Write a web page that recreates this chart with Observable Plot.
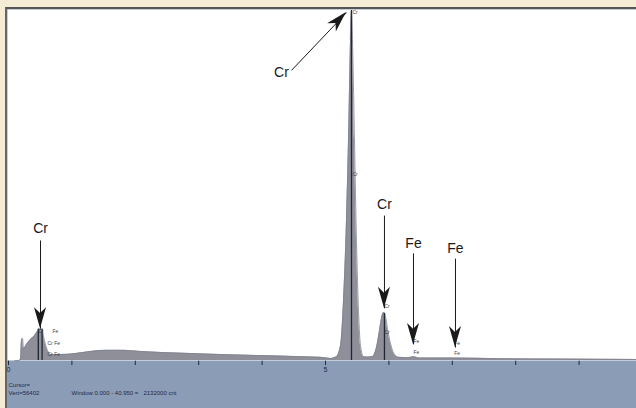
<!DOCTYPE html>
<html><head><meta charset="utf-8">
<script src="https://cdn.jsdelivr.net/npm/d3@7"></script>
<script src="https://cdn.jsdelivr.net/npm/@observablehq/plot@0.6"></script>
<style>
html,body{margin:0;padding:0;background:#f5ecd6;}
#wrap{position:relative;width:636px;height:408px;overflow:hidden;background:#f5ecd6;}
#panel{position:absolute;left:5px;top:7px;width:631px;height:401px;background:#8b9cb7;border-top:2px solid #555;border-left:2px solid #666;box-sizing:border-box;}
#chart{position:absolute;left:0;top:0;}
</style></head><body>
<div id="wrap"><div id="panel"></div><div id="chart"></div></div>
<script>
// Energy (keV) and relative counts
const energy = [0.10,0.17,0.19,0.205,0.221,0.237,0.284,0.347,0.410,0.457,0.505,0.536,0.568,0.615,0.662,0.82,1.057,1.293,1.53,1.767,2.08,2.40,2.87,3.34,3.97,4.61,4.92,5.08,5.173,5.237,5.284,5.331,5.363,5.394,5.410,5.426,5.457,5.489,5.521,5.552,5.599,5.647,5.74,5.804,5.852,5.883,5.915,5.946,5.978,6.025,6.088,6.151,6.30,6.39,6.48,7.05,7.76,8.70,9.90,10.0];
const counts = [0,0,0.5,5.7,6.3,3.4,4.6,6.0,7.1,8.3,9.1,8.3,5.7,2.9,1.7,1.7,2.0,2.6,2.9,2.9,2.6,2.3,2.0,1.7,1.4,1.1,0.9,0.6,1.1,4.3,17,40,63,91,100,91,63,34,14,4.3,1.1,1.0,1.1,3.7,8.6,12,13.7,12.6,9.1,4.9,1.7,0.9,0.8,1.1,0.7,0.7,0.5,0.4,0.3,0.3];

// Axis ticks
const tickValues = [0,1,2,3,4,5,6,7,8,9,10];
const tickLabels = [0,5];

// KLM marker lines
const markerEnergy = [5.41, 5.93, 0.47, 0.53];
const markerHeight = [100, 13.5, 9, 9];

// Small marker tags
const tagText = ["Cr","Cr","Cr","Cr","Fe","Fe","Fe","Fe","Cr","Fe","Cr Fe","Cr Fe"];
const tagEnergy = [5.426,5.426,5.93,5.93,6.388,6.388,7.03,7.03,0.473,0.694,0.615,0.615];
const tagCount = [99.4,53.1,15.4,8.0,5.4,2.3,4.9,2.0,8.3,8.3,4.9,1.7];

// Annotation labels with arrows
const arrowLabel = ["Cr","Cr","Cr","Fe","Fe"];
const labelEnergy = [4.306,0.505,5.93,6.388,7.05];
const labelCount = [82.3,37.7,44.6,33.4,32.0];
const arrowStartE = [4.464,0.505,5.93,6.388,7.05];
const arrowStartC = [82.9,34.3,41.4,30.6,29.1];
const arrowTipE = [5.331,0.505,5.93,6.388,7.05];
const arrowTipC = [99.4,9.1,14.9,4.6,3.7];

// Status line texts
const statusCursor = "Cursor=";
const statusVert = "Vert=56402";
const statusWindow = "Window 0.000 - 40.950 =   2132000 cnt";

const spectrum = energy.map((e,i)=>({e, c: counts[i]}));
const markers = markerEnergy.map((e,i)=>({e, h: markerHeight[i]}));
const tags = tagText.map((t,i)=>({t, e: tagEnergy[i], c: tagCount[i]}));
const arrows = arrowLabel.map((label,i)=>({label, tx: labelEnergy[i], ty: labelCount[i], x1: arrowStartE[i], y1: arrowStartC[i], x2: arrowTipE[i], y2: arrowTipC[i]}));

const plot = Plot.plot({
  width: 636, height: 408,
  marginLeft: 7, marginRight: 0, marginTop: 9, marginBottom: 48,
  style: {background: "transparent", fontFamily: "'Liberation Sans', Arial, sans-serif", fontSize: "7px", color: "#1c2a44"},
  x: {domain: [0, 10], range: [8, 642], ticks: tickValues, tickSize: 5, tickPadding: 2, tickFormat: d => tickLabels.includes(d) ? String(d) : "", label: null},
  y: {domain: [0, 100], range: [360, 10], axis: null},
  marks: [
    Plot.frame({fill: "white", stroke: "none"}),
    Plot.areaY(spectrum, {x: "e", y: "c", fill: "#8e8f99", curve: "monotone-x"}),
    Plot.lineY(spectrum, {x: "e", y: "c", stroke: "#80838f", strokeWidth: 0.8, curve: "monotone-x"}),
    Plot.ruleX(markers, {x: "e", y1: 0, y2: "h", stroke: "#1f2733", strokeWidth: 1.3}),
    Plot.text(tags, {x: "e", y: "c", text: "t", textAnchor: "start", fontSize: 5, fill: "#3a3f4a"}),
    Plot.link(arrows, {x1: "x1", y1: "y1", x2: "x2", y2: "y2", stroke: "#1a1a1a", strokeWidth: 1}),
    Plot.text(arrows, {x: "tx", y: "ty", text: "label", fontSize: 14, fill: "#1a1a1a"}),
    Plot.text([statusCursor], {frameAnchor: "bottom-left", textAnchor: "start", dx: 1, dy: 26, fontSize: 6, fill: "#1f2b4a"}),
    Plot.text([statusVert], {frameAnchor: "bottom-left", textAnchor: "start", dx: 1, dy: 34, fontSize: 6, fill: "#1f2b4a"}),
    Plot.text([statusWindow], {frameAnchor: "bottom-left", textAnchor: "start", dx: 64, dy: 34, fontSize: 6, fill: "#1f2b4a"})
  ]
});

// Filled arrowheads placed through the plot's own scales
const sx = plot.scale("x"), sy = plot.scale("y");
const fx = sx.apply ? v => sx.apply(v) : d3.scaleLinear(sx.domain, sx.range);
const fy = sy.apply ? v => sy.apply(v) : d3.scaleLinear(sy.domain, sy.range);
const L = 21, W = 12;
const g = d3.select(plot).append("g").attr("fill", "#1a1a1a");
arrows.forEach(a => {
  const px1 = fx(a.x1), py1 = fy(a.y1), px2 = fx(a.x2), py2 = fy(a.y2);
  const ang = Math.atan2(py2 - py1, px2 - px1) * 180 / Math.PI;
  g.append("path")
    .attr("d", `M0,0L${-L},${-W/2}L${-L*0.72},0L${-L},${W/2}Z`)
    .attr("transform", `translate(${px2},${py2}) rotate(${ang})`);
});

document.getElementById("chart").appendChild(plot);
</script></body></html>
